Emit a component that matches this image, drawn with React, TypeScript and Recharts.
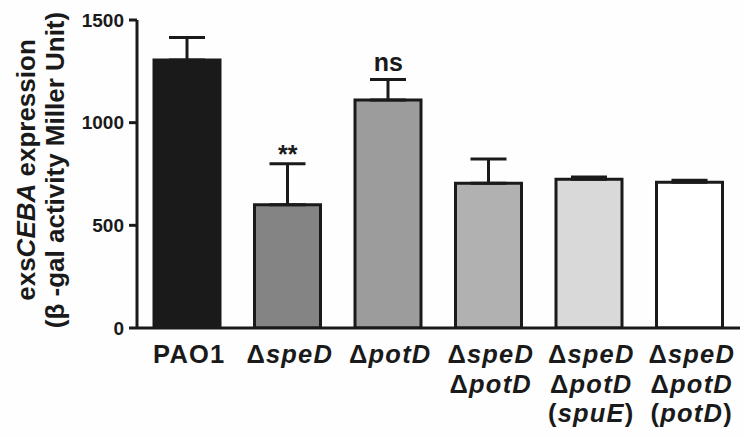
import React from 'react';
import { ComposedChart, Bar, Line, XAxis, YAxis, ErrorBar, Cell, LabelList, Label } from 'recharts';

const categories = ['PAO1', 'ΔspeD', 'ΔpotD', 'ΔspeDΔpotD', 'ΔspeDΔpotD(spuE)', 'ΔspeDΔpotD(potD)'];
const means = [1305, 600, 1110, 705, 725, 710];
const errors = [110, 200, 100, 118, 10, 10];
const significance = ['', '**', 'ns', '', '', ''];
const fills = ['#1a1a1a', '#838483', '#9b9c9b', '#b1b1b1', '#d9d9d9', '#ffffff'];
const yTicks = [0, 500, 1000, 1500];
// underscores mark italic segments
const tickLabels = [
  ['PAO1'],
  ['Δ_speD_'],
  ['Δ_potD_'],
  ['Δ_speD_', 'Δ_potD_'],
  ['Δ_speD_', 'Δ_potD_', '(_spuE_)'],
  ['Δ_speD_', 'Δ_potD_', '(_potD_)'],
];

const data = categories.map((name, i) => ({
  name,
  value: means[i],
  errRange: [0, errors[i]],
  top: means[i] + errors[i],
  sig: significance[i],
}));

const FONT = '"Liberation Sans", Arial, Helvetica, sans-serif';
const INK = '#1a1a1a';

const renderSegments = (line: string) =>
  line.split('_').map((seg, k) => (
    <tspan key={k} fontStyle={k % 2 === 1 ? 'italic' : 'normal'}>
      {seg}
    </tspan>
  ));

const XTick = (props: any) => {
  const { x, y, payload } = props;
  const lines = tickLabels[categories.indexOf(payload.value)] || [String(payload.value)];
  return (
    <g>
      {lines.map((line, i) => (
        <text
          key={i}
          x={x + 2}
          y={y + 27 + i * 29.5}
          textAnchor="middle"
          fontFamily={FONT}
          fontWeight="bold"
          fontSize={25.5}
          letterSpacing={1.2}
          fill={INK}
        >
          {renderSegments(line)}
        </text>
      ))}
    </g>
  );
};

const SigLabel = (props: any) => {
  const { x, y, value } = props;
  if (!value) return null;
  const dy = value === '**' ? -1 : -9;
  return (
    <text x={x} y={y + dy} textAnchor="middle" fontFamily={FONT} fontWeight="bold" fontSize={25} fill={INK}>
      {value}
    </text>
  );
};

const YTitle = (props: any) => {
  const vb = props.viewBox || {};
  const cy = (vb.y ?? 20) + (vb.height ?? 308) / 2 - 4;
  return (
    <g fontFamily={FONT} fontWeight="bold" fontSize={26} fill={INK}>
      <text x={26} y={cy} transform={`rotate(-90, 26, ${cy})`} textAnchor="middle" dominantBaseline="central">
        <tspan>exs</tspan>
        <tspan fontStyle="italic">CEBA</tspan>
        <tspan> expression</tspan>
      </text>
      <text x={55} y={cy} transform={`rotate(-90, 55, ${cy})`} textAnchor="middle" dominantBaseline="central">
        (β -gal activity Miller Unit)
      </text>
    </g>
  );
};

export default function App() {
  return (
    <div style={{ position: 'absolute', left: 0, top: 0, width: 744, height: 437, background: '#fefefe' }}>
      <ComposedChart width={744} height={437} data={data} margin={{ top: 20, right: 4, bottom: 0, left: 0 }}>
        <XAxis
          dataKey="name"
          axisLine={{ stroke: INK, strokeWidth: 3 }}
          tickLine={false}
          tick={<XTick />}
          interval={0}
          height={109}
        />
        <YAxis
          domain={[0, 1500]}
          ticks={yTicks}
          width={137}
          axisLine={{ stroke: INK, strokeWidth: 3 }}
          tickLine={{ stroke: INK, strokeWidth: 3 }}
          tickSize={8}
          tickMargin={5}
          tick={{ fontFamily: FONT, fontWeight: 'bold', fontSize: 19, fill: INK }}
          allowDataOverflow
        >
          <Label content={<YTitle />} />
        </YAxis>
        <Bar dataKey="value" barSize={66} stroke={INK} strokeWidth={3} isAnimationActive={false}>
          {data.map((d, i) => (
            <Cell key={d.name} fill={fills[i]} />
          ))}
          <ErrorBar dataKey="errRange" width={18} stroke={INK} strokeWidth={3} direction="y" />
        </Bar>
        <Line
          dataKey="top"
          stroke="none"
          dot={false}
          activeDot={false}
          legendType="none"
          isAnimationActive={false}
        >
          <LabelList dataKey="sig" content={<SigLabel />} />
        </Line>
      </ComposedChart>
    </div>
  );
}
